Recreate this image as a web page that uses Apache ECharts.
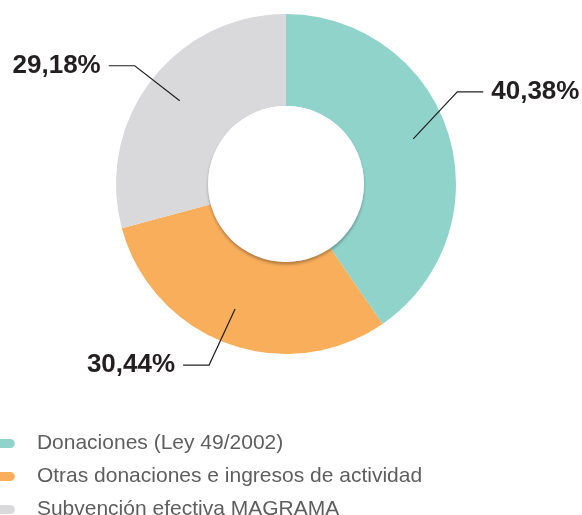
<!DOCTYPE html>
<html>
<head>
<meta charset="utf-8">
<script src="https://cdn.jsdelivr.net/npm/echarts@6/dist/echarts.min.js"></script>
<style>
  html, body { margin: 0; padding: 0; background: #ffffff; }
  #chart { width: 582px; height: 515px; }
</style>
</head>
<body>
<div id="chart"></div>
<script>
// Income sources (percent of total)
const categories = [
  'Donaciones (Ley 49/2002)',
  'Otras donaciones e ingresos de actividad',
  'Subvención efectiva MAGRAMA'
];
const shares = [40.38, 30.44, 29.18];
const shareLabels = ['40,38%', '30,44%', '29,18%'];
const colors = ['#8fd3cb', '#f9ae5b', '#d9d9db'];

// ring geometry
const CX = 286, CY = 184, R_IN = 78, R_OUT = 170;
// leader lines: start radius, angle nudge (deg), bend offset from the start point,
// horizontal run and gap before the text
const LEADER_START_R = 135;
const leaderNudge = [-2.2, 2, 0.6];
const leaderBend = [[44, -47], [-26, 56], [-45, -35]];
const LEADER_RUN = 26, LEADER_GAP = 8;

const total = shares.reduce((a, b) => a + b, 0);

// mid-angle of each slice, measured clockwise from 12 o'clock
const midAngles = [];
let acc = 0;
shares.forEach(v => {
  midAngles.push(((acc + v / 2) / total) * 2 * Math.PI);
  acc += v;
});

const pillIcon = 'path://M5,0 H17 A5,5 0 0 1 17,10 H5 A5,5 0 0 1 5,0 Z';

const chart = echarts.init(document.getElementById('chart'), null, { renderer: 'canvas' });

chart.setOption({
  animation: false,
  legend: {
    orient: 'vertical',
    left: -5,
    top: 433,
    height: 100,
    padding: 0,
    icon: pillIcon,
    itemWidth: 22,
    itemHeight: 9,
    itemGap: 12,
    selectedMode: false,
    textStyle: {
      fontFamily: 'Liberation Sans',
      fontSize: 21,
      lineHeight: 20,
      color: '#5e5e5e',
      padding: [0, 0, 0, 16]
    },
    data: categories
  },
  series: [
    {
      // coloured ring
      type: 'pie',
      center: [CX, CY],
      radius: [R_IN, R_OUT],
      startAngle: 90,
      clockwise: true,
      silent: true,
      z: 2,
      label: { show: false },
      labelLine: { show: false },
      data: categories.map((name, i) => ({
        name,
        value: shares[i],
        itemStyle: { color: colors[i] }
      }))
    },
    {
      // white centre disc with a soft drop shadow
      type: 'pie',
      center: [CX, CY],
      radius: [0, R_IN],
      silent: true,
      z: 3,
      label: { show: false },
      labelLine: { show: false },
      data: [{
        name: 'centro',
        value: 1,
        itemStyle: {
          color: '#ffffff',
          shadowColor: 'rgba(0,0,0,0.28)',
          shadowBlur: 3,
          shadowOffsetY: 2.5
        }
      }]
    },
    {
      // percentage labels and leader lines, drawn above the ring
      type: 'pie',
      center: [CX, CY],
      radius: [R_IN, R_OUT],
      startAngle: 90,
      clockwise: true,
      silent: true,
      z: 4,
      itemStyle: { color: 'rgba(0,0,0,0)' },
      data: categories.map((name, i) => ({ name: name + ' ', value: shares[i] })),
      label: {
        show: true,
        formatter: p => shareLabels[p.dataIndex],
        fontFamily: 'Liberation Sans',
        fontWeight: 'bold',
        fontSize: 26,
        color: '#231f20',
        overflow: 'none',
        edgeDistance: 0
      },
      labelLine: {
        show: true,
        lineStyle: { color: '#231f20', width: 1.2 }
      },
      labelLayout: function (params) {
        const i = params.dataIndex;
        const a = midAngles[i] + leaderNudge[i] * Math.PI / 180;
        const sx = CX + Math.sin(a) * LEADER_START_R;
        const sy = CY - Math.cos(a) * LEADER_START_R;
        const ex = sx + leaderBend[i][0];
        const ey = sy + leaderBend[i][1];
        const dir = Math.sin(a) >= 0 ? 1 : -1;
        const hx = ex + dir * LEADER_RUN;
        return {
          x: hx + dir * LEADER_GAP,
          y: ey,
          align: dir > 0 ? 'left' : 'right',
          verticalAlign: 'middle',
          labelLinePoints: [[sx, sy], [ex, ey], [hx, ey]]
        };
      }
    }
  ]
});
</script>
</body>
</html>
